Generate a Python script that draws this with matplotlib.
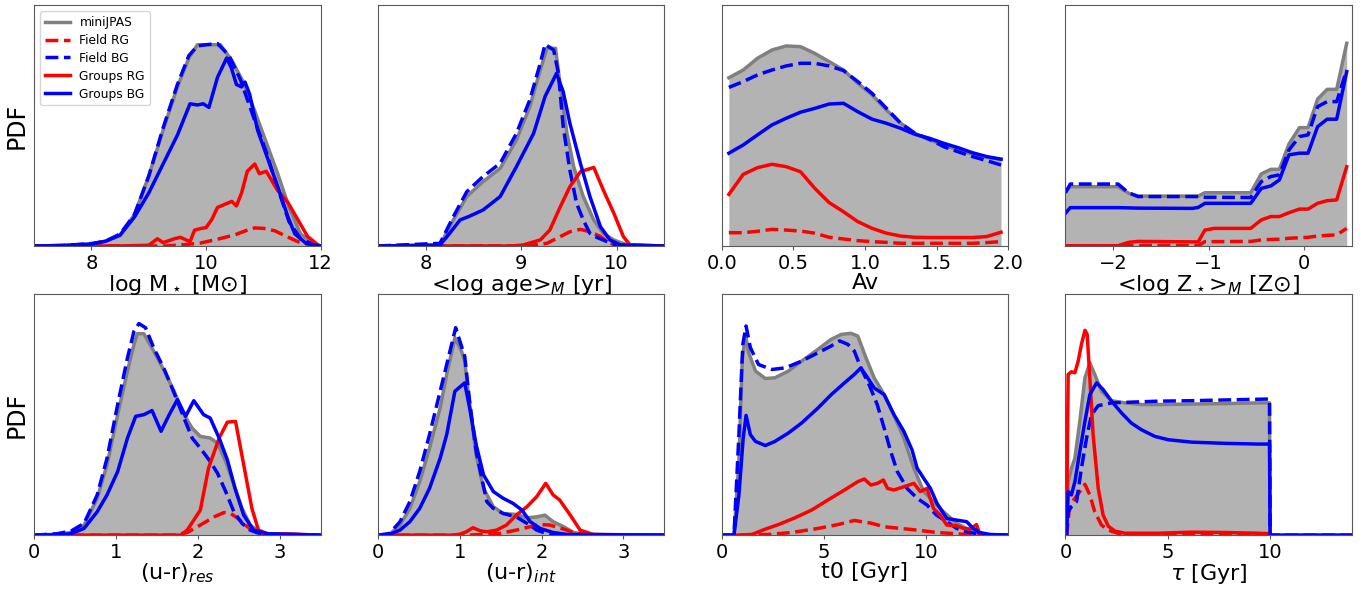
import matplotlib.pyplot as plt

# ---- log M* ----
mass_all_x = [7.0, 7.5, 8.0, 8.25, 8.5, 8.75, 9.0, 9.25, 9.5, 9.7, 9.85, 10.0, 10.25, 10.45, 10.65, 10.85, 11.05, 11.25, 11.45, 11.65, 11.9, 12.0]
mass_all_y = [0, 0.002, 0.008, 0.02, 0.045, 0.13, 0.29, 0.48, 0.66, 0.78, 0.835, 0.835, 0.835, 0.77, 0.68, 0.56, 0.43, 0.30, 0.16, 0.05, 0.005, 0]
mass_fbg_x = [7.0, 7.5, 8.0, 8.25, 8.5, 8.75, 9.0, 9.25, 9.5, 9.7, 9.85, 10.0, 10.2, 10.4, 10.6, 10.85, 11.05, 11.25, 11.45, 11.65, 11.9, 12.0]
mass_fbg_y = [0, 0.002, 0.01, 0.02, 0.05, 0.13, 0.29, 0.49, 0.67, 0.79, 0.83, 0.835, 0.84, 0.79, 0.69, 0.52, 0.39, 0.24, 0.10, 0.03, 0.003, 0]
mass_gbg_x = [7.0, 7.5, 8.0, 8.25, 8.5, 8.75, 9.0, 9.25, 9.5, 9.72, 9.85, 9.95, 10.05, 10.2, 10.36, 10.44, 10.53, 10.62, 10.68, 10.76, 10.9, 11.08, 11.26, 11.43, 11.55, 11.75, 12.0]
mass_gbg_y = [0, 0.002, 0.008, 0.02, 0.045, 0.12, 0.22, 0.34, 0.46, 0.59, 0.585, 0.59, 0.575, 0.70, 0.78, 0.74, 0.67, 0.66, 0.68, 0.63, 0.48, 0.36, 0.24, 0.12, 0.05, 0.01, 0]
mass_grg_x = [7.0, 8.5, 9.0, 9.15, 9.25, 9.45, 9.55, 9.72, 9.8, 9.92, 10.0, 10.1, 10.2, 10.35, 10.45, 10.53, 10.62, 10.72, 10.85, 10.93, 11.05, 11.25, 11.43, 11.6, 11.77, 11.95, 12.0]
mass_grg_y = [0, 0, 0.003, 0.03, 0.014, 0.03, 0.036, 0.018, 0.066, 0.073, 0.076, 0.11, 0.16, 0.175, 0.185, 0.166, 0.22, 0.31, 0.34, 0.30, 0.31, 0.23, 0.18, 0.11, 0.04, 0.005, 0]
mass_frg_x = [7.0, 9.3, 9.6, 9.9, 10.2, 10.5, 10.7, 10.85, 11.0, 11.2, 11.4, 11.6, 11.85, 12.0]
mass_frg_y = [0, 0, 0.005, 0.012, 0.028, 0.046, 0.064, 0.075, 0.073, 0.063, 0.04, 0.018, 0.004, 0]

# ---- <log age>_M ----
age_all_x = [7.5, 8.15, 8.29, 8.43, 8.6, 8.78, 8.95, 9.09, 9.2, 9.27, 9.36, 9.41, 9.48, 9.55, 9.65, 9.76, 9.86, 9.97, 10.11, 10.5]
age_all_y = [0, 0.004, 0.108, 0.205, 0.267, 0.322, 0.44, 0.578, 0.73, 0.82, 0.82, 0.66, 0.467, 0.329, 0.205, 0.108, 0.052, 0.025, 0.004, 0]
age_fbg_x = [7.5, 8.15, 8.29, 8.43, 8.6, 8.78, 8.95, 9.09, 9.2, 9.25, 9.34, 9.39, 9.44, 9.51, 9.58, 9.65, 9.72, 9.79, 9.9, 10.0, 10.5]
age_fbg_y = [0, 0.011, 0.122, 0.225, 0.288, 0.343, 0.467, 0.606, 0.758, 0.837, 0.813, 0.716, 0.495, 0.315, 0.177, 0.108, 0.052, 0.036, 0.018, 0.004, 0]
age_gbg_x = [7.5, 8.15, 8.25, 8.36, 8.45, 8.6, 8.78, 8.95, 9.13, 9.25, 9.37, 9.44, 9.51, 9.62, 9.72, 9.83, 9.93, 10.04, 10.5]
age_gbg_y = [0, 0.004, 0.052, 0.108, 0.122, 0.149, 0.205, 0.329, 0.467, 0.62, 0.716, 0.64, 0.509, 0.343, 0.205, 0.08, 0.025, 0.004, 0]
age_grg_x = [7.5, 8.9, 9.02, 9.2, 9.3, 9.41, 9.51, 9.62, 9.76, 9.86, 9.97, 10.07, 10.14, 10.5]
age_grg_y = [0, 0, 0.004, 0.025, 0.066, 0.163, 0.246, 0.308, 0.326, 0.232, 0.136, 0.039, 0.004, 0]
age_frg_x = [7.5, 9.0, 9.13, 9.27, 9.41, 9.51, 9.62, 9.72, 9.83, 9.93, 10.04, 10.5]
age_frg_y = [0, 0, 0.004, 0.011, 0.039, 0.059, 0.069, 0.059, 0.039, 0.011, 0.001, 0]

# ---- Av ----
av_x = [0.05, 0.15, 0.25, 0.35, 0.45, 0.55, 0.65, 0.75, 0.85, 0.95, 1.05, 1.15, 1.25, 1.35, 1.45, 1.55, 1.65, 1.75, 1.85, 1.95]
av_all_y = [0.698, 0.730, 0.779, 0.813, 0.830, 0.827, 0.799, 0.765, 0.730, 0.675, 0.627, 0.564, 0.509, 0.467, 0.440, 0.419, 0.398, 0.382, 0.368, 0.360]
av_fbg_y = [0.658, 0.682, 0.710, 0.730, 0.747, 0.758, 0.758, 0.747, 0.728, 0.682, 0.633, 0.571, 0.509, 0.467, 0.443, 0.412, 0.391, 0.371, 0.354, 0.336]
av_gbg_y = [0.385, 0.419, 0.461, 0.502, 0.530, 0.555, 0.571, 0.589, 0.592, 0.557, 0.526, 0.509, 0.488, 0.463, 0.447, 0.426, 0.408, 0.387, 0.371, 0.360]
av_grg_y = [0.214, 0.297, 0.325, 0.339, 0.329, 0.308, 0.239, 0.180, 0.142, 0.101, 0.073, 0.053, 0.041, 0.036, 0.035, 0.035, 0.035, 0.035, 0.039, 0.057]
av_frg_y = [0.055, 0.055, 0.061, 0.069, 0.066, 0.062, 0.053, 0.036, 0.029, 0.022, 0.018, 0.015, 0.011, 0.011, 0.011, 0.011, 0.011, 0.011, 0.014, 0.018]

# ---- <log Z*>_M ----
met_x = [-2.5, -2.45, -1.95, -1.84, -1.74, -1.17, -1.11, -1.04, -0.94, -0.56, -0.45, -0.35, -0.26, -0.16, -0.05, 0.04, 0.14, 0.24, 0.34, 0.445]
met_all_y = [0.225, 0.246, 0.246, 0.219, 0.207, 0.207, 0.207, 0.221, 0.221, 0.221, 0.299, 0.318, 0.318, 0.423, 0.491, 0.491, 0.609, 0.650, 0.650, 0.841]
met_fbg_y = [0.221, 0.257, 0.257, 0.221, 0.205, 0.205, 0.205, 0.202, 0.202, 0.201, 0.267, 0.288, 0.295, 0.398, 0.454, 0.461, 0.578, 0.599, 0.599, 0.730]
met_gbg_y = [0.136, 0.159, 0.159, 0.158, 0.157, 0.156, 0.160, 0.177, 0.177, 0.177, 0.239, 0.249, 0.274, 0.378, 0.385, 0.385, 0.495, 0.526, 0.526, 0.723]
met_grg_y = [0.001, 0.001, 0.001, 0.015, 0.019, 0.017, 0.017, 0.066, 0.073, 0.073, 0.108, 0.122, 0.122, 0.138, 0.153, 0.153, 0.177, 0.188, 0.191, 0.329]
met_frg_y = [0.001, 0.001, 0.001, 0.001, 0.001, 0.001, 0.001, 0.018, 0.018, 0.019, 0.025, 0.027, 0.028, 0.032, 0.034, 0.036, 0.041, 0.044, 0.046, 0.073]

# ---- (u-r)_res ----
res_all_x = [0.0, 0.28, 0.45, 0.61, 0.77, 0.89, 1.02, 1.14, 1.22, 1.26, 1.34, 1.46, 1.59, 1.71, 1.83, 1.93, 2.03, 2.15, 2.24, 2.34, 2.44, 2.54, 2.64, 2.76, 2.93, 3.5]
res_all_y = [0, 0.004, 0.011, 0.042, 0.153, 0.292, 0.5, 0.681, 0.792, 0.836, 0.836, 0.764, 0.681, 0.597, 0.5, 0.444, 0.41, 0.403, 0.382, 0.306, 0.208, 0.111, 0.042, 0.011, 0.003, 0]
res_fbg_x = [0.0, 0.28, 0.45, 0.61, 0.77, 0.89, 1.02, 1.14, 1.22, 1.28, 1.36, 1.46, 1.59, 1.71, 1.83, 1.93, 2.03, 2.15, 2.24, 2.34, 2.44, 2.54, 2.64, 2.76, 3.5]
res_fbg_y = [0, 0.006, 0.017, 0.049, 0.167, 0.319, 0.542, 0.736, 0.847, 0.878, 0.861, 0.778, 0.688, 0.59, 0.486, 0.403, 0.361, 0.306, 0.257, 0.181, 0.097, 0.049, 0.021, 0.006, 0]
res_gbg_x = [0.0, 0.28, 0.45, 0.61, 0.77, 0.89, 1.02, 1.14, 1.24, 1.34, 1.44, 1.55, 1.65, 1.75, 1.85, 1.95, 2.07, 2.15, 2.26, 2.36, 2.46, 2.56, 2.68, 2.85, 3.5]
res_gbg_y = [0, 0.001, 0.006, 0.028, 0.097, 0.167, 0.264, 0.403, 0.493, 0.5, 0.517, 0.431, 0.5, 0.5625, 0.493, 0.558, 0.5, 0.486, 0.403, 0.3125, 0.1875, 0.083, 0.021, 0.006, 0]
res_grg_x = [0.0, 1.79, 1.87, 2.03, 2.13, 2.26, 2.36, 2.46, 2.56, 2.66, 2.74, 2.85, 3.2, 3.5]
res_grg_y = [0, 0, 0.021, 0.104, 0.278, 0.403, 0.469, 0.472, 0.292, 0.111, 0.021, 0.006, 0.004, 0]
res_frg_x = [0.0, 1.71, 1.87, 2.03, 2.2, 2.32, 2.4, 2.48, 2.58, 2.68, 2.8, 3.5]
res_frg_y = [0, 0, 0.011, 0.042, 0.076, 0.094, 0.090, 0.072, 0.042, 0.017, 0.004, 0]

# ---- (u-r)_int ----
int_all_x = [0.0, 0.14, 0.27, 0.39, 0.51, 0.63, 0.76, 0.84, 0.94, 1.02, 1.06, 1.12, 1.2, 1.29, 1.41, 1.53, 1.69, 1.82, 1.94, 2.04, 2.14, 2.27, 2.39, 2.55, 3.5]
int_all_y = [0, 0.003, 0.042, 0.111, 0.222, 0.361, 0.528, 0.667, 0.819, 0.764, 0.722, 0.542, 0.333, 0.194, 0.118, 0.09, 0.086, 0.072, 0.076, 0.083, 0.056, 0.035, 0.011, 0.003, 0]
int_fbg_x = [0.0, 0.14, 0.27, 0.39, 0.51, 0.63, 0.76, 0.84, 0.95, 1.0, 1.06, 1.12, 1.2, 1.33, 1.41, 1.53, 1.69, 1.82, 1.94, 2.06, 2.22, 3.5]
int_fbg_y = [0, 0.007, 0.056, 0.139, 0.264, 0.417, 0.597, 0.708, 0.861, 0.806, 0.743, 0.556, 0.347, 0.139, 0.111, 0.09, 0.076, 0.049, 0.021, 0.007, 0, 0]
int_gbg_x = [0.0, 0.14, 0.27, 0.39, 0.51, 0.63, 0.76, 0.84, 0.94, 1.06, 1.12, 1.2, 1.29, 1.41, 1.53, 1.65, 1.76, 1.86, 1.98, 2.14, 2.31, 3.5]
int_gbg_y = [0, 0.003, 0.021, 0.056, 0.111, 0.194, 0.319, 0.417, 0.597, 0.632, 0.528, 0.375, 0.25, 0.181, 0.153, 0.132, 0.104, 0.056, 0.028, 0.011, 0.003, 0]
int_grg_x = [0.0, 0.92, 1.0, 1.08, 1.16, 1.25, 1.33, 1.45, 1.57, 1.69, 1.82, 1.94, 2.05, 2.14, 2.22, 2.35, 2.47, 2.63, 3.5]
int_grg_y = [0, 0, 0.004, 0.014, 0.031, 0.018, 0.014, 0.021, 0.042, 0.083, 0.118, 0.16, 0.215, 0.167, 0.146, 0.083, 0.021, 0.003, 0]
int_frg_x = [0.0, 1.08, 1.29, 1.49, 1.69, 1.86, 1.98, 2.1, 2.27, 2.39, 2.55, 3.5]
int_frg_y = [0, 0, 0.003, 0.007, 0.021, 0.035, 0.044, 0.042, 0.025, 0.011, 0.001, 0]

# ---- t0 ----
t0_all_x = [0.0, 0.6, 0.84, 1.0, 1.16, 1.32, 1.65, 2.13, 2.6, 3.26, 3.9, 4.7, 5.35, 5.84, 6.32, 6.65, 7.05, 7.45, 7.94, 8.4, 8.9, 9.39, 9.87, 10.35, 10.84, 11.48, 11.97, 12.45, 12.8, 14.0]
t0_all_y = [0, 0, 0.306, 0.722, 0.833, 0.757, 0.681, 0.65, 0.653, 0.681, 0.722, 0.771, 0.8125, 0.833, 0.8375, 0.826, 0.736, 0.653, 0.583, 0.5, 0.403, 0.278, 0.181, 0.139, 0.097, 0.049, 0.028, 0.014, 0.003, 0]
t0_fbg_x = [0.0, 0.6, 0.84, 1.03, 1.19, 1.4, 1.8, 2.45, 3.1, 3.9, 4.71, 5.35, 5.76, 6.16, 6.48, 6.8, 7.2, 7.6, 7.94, 8.26, 8.58, 9.06, 9.55, 10.03, 10.5, 11.0, 11.48, 11.97, 12.45, 12.8, 14.0]
t0_fbg_y = [0, 0, 0.417, 0.792, 0.868, 0.778, 0.708, 0.6875, 0.694, 0.722, 0.757, 0.785, 0.806, 0.792, 0.764, 0.694, 0.625, 0.542, 0.444, 0.347, 0.264, 0.194, 0.153, 0.125, 0.083, 0.056, 0.028, 0.014, 0.006, 0, 0]
t0_gbg_x = [0.0, 0.6, 0.84, 1.05, 1.19, 1.4, 1.65, 2.13, 2.6, 3.26, 3.9, 4.71, 5.35, 6.0, 6.48, 6.8, 7.13, 7.45, 7.94, 8.42, 8.9, 9.3, 9.55, 9.87, 10.2, 10.52, 11.0, 11.48, 11.97, 12.29, 12.61, 13.1, 14.0]
t0_gbg_y = [0, 0, 0.167, 0.403, 0.497, 0.417, 0.389, 0.372, 0.389, 0.424, 0.465, 0.528, 0.583, 0.632, 0.667, 0.694, 0.653, 0.611, 0.583, 0.5, 0.431, 0.354, 0.278, 0.236, 0.194, 0.132, 0.069, 0.0625, 0.056, 0.028, 0.011, 0.003, 0]
t0_grg_x = [0.0, 0.68, 1.48, 2.13, 2.77, 3.58, 4.39, 5.19, 6.0, 6.65, 6.97, 7.29, 7.61, 7.9, 8.1, 8.42, 8.9, 9.39, 9.7, 10.03, 10.35, 10.68, 11.0, 11.48, 11.81, 12.13, 12.45, 12.61, 12.94, 14.0]
t0_grg_y = [0, 0, 0.003, 0.025, 0.044, 0.072, 0.104, 0.146, 0.1875, 0.222, 0.233, 0.208, 0.215, 0.229, 0.194, 0.1875, 0.201, 0.215, 0.181, 0.194, 0.111, 0.083, 0.042, 0.039, 0.028, 0.025, 0.044, 0.003, 0, 0]
t0_frg_x = [0.0, 1.16, 2.29, 3.42, 4.71, 5.68, 6.48, 7.29, 7.94, 8.74, 9.55, 10.52, 11.48, 12.13, 14.0]
t0_frg_y = [0, 0, 0.003, 0.011, 0.028, 0.044, 0.061, 0.05, 0.035, 0.028, 0.021, 0.011, 0.006, 0.001, 0]

# ---- tau ----
tau_all_x = [0.0, 0.05, 0.13, 0.29, 0.46, 0.7, 0.95, 1.19, 1.43, 1.76, 2.25, 2.9, 3.71, 4.53, 6.16, 7.78, 9.41, 9.97, 10.0, 14.0]
tau_all_y = [0, 0, 0.222, 0.278, 0.319, 0.472, 0.653, 0.715, 0.667, 0.597, 0.558, 0.549, 0.542, 0.542, 0.544, 0.546, 0.549, 0.549, 0, 0]
tau_fbg_x = [0.0, 0.05, 0.13, 0.29, 0.54, 0.78, 1.03, 1.27, 1.6, 2.25, 2.9, 4.53, 6.16, 7.78, 9.41, 9.97, 10.0, 14.0]
tau_fbg_y = [0, 0, 0.097, 0.118, 0.139, 0.278, 0.403, 0.5, 0.5375, 0.549, 0.551, 0.556, 0.558, 0.561, 0.564, 0.565, 0, 0]
tau_gbg_x = [0.0, 0.05, 0.13, 0.29, 0.46, 0.7, 0.95, 1.19, 1.52, 1.84, 2.25, 2.74, 3.22, 3.71, 4.36, 5.02, 6.16, 7.78, 9.41, 9.97, 10.0, 14.0]
tau_gbg_y = [0, 0, 0.181, 0.167, 0.222, 0.347, 0.472, 0.583, 0.632, 0.604, 0.556, 0.507, 0.465, 0.4375, 0.41, 0.396, 0.386, 0.381, 0.378, 0.378, 0, 0]
tau_grg_x = [0.0, 0.05, 0.13, 0.29, 0.46, 0.62, 0.78, 0.95, 1.06, 1.19, 1.35, 1.6, 1.84, 2.09, 2.41, 2.9, 4.53, 6.16, 7.78, 9.41, 10.0]
tau_grg_y = [0, 0, 0.667, 0.678, 0.674, 0.722, 0.792, 0.85, 0.833, 0.653, 0.417, 0.194, 0.083, 0.0375, 0.017, 0.008, 0.008, 0.0125, 0.011, 0.008, 0.006]
tau_frg_x = [0.0, 0.05, 0.21, 0.46, 0.7, 0.95, 1.19, 1.43, 1.76, 2.09, 2.57, 3.22, 9.97, 10.0]
tau_frg_y = [0, 0, 0.125, 0.153, 0.181, 0.211, 0.167, 0.097, 0.042, 0.021, 0.008, 0.006, 0.004, 0]

panels = [
    # (curves: all, field RG, field BG, groups RG, groups BG), xlim, xticks, xlabel
    ([(mass_all_x, mass_all_y), (mass_frg_x, mass_frg_y), (mass_fbg_x, mass_fbg_y), (mass_grg_x, mass_grg_y), (mass_gbg_x, mass_gbg_y)],
     (7, 12), [8, 10, 12], r'log M$_\star$ [M⊙]'),
    ([(age_all_x, age_all_y), (age_frg_x, age_frg_y), (age_fbg_x, age_fbg_y), (age_grg_x, age_grg_y), (age_gbg_x, age_gbg_y)],
     (7.5, 10.5), [8, 9, 10], r'<log age>$_M$ [yr]'),
    ([(av_x, av_all_y), (av_x, av_frg_y), (av_x, av_fbg_y), (av_x, av_grg_y), (av_x, av_gbg_y)],
     (0, 2), [0.0, 0.5, 1.0, 1.5, 2.0], 'Av'),
    ([(met_x, met_all_y), (met_x, met_frg_y), (met_x, met_fbg_y), (met_x, met_grg_y), (met_x, met_gbg_y)],
     (-2.5, 0.5), [-2, -1, 0], r'<log Z$_\star$>$_M$ [Z⊙]'),
    ([(res_all_x, res_all_y), (res_frg_x, res_frg_y), (res_fbg_x, res_fbg_y), (res_grg_x, res_grg_y), (res_gbg_x, res_gbg_y)],
     (0, 3.5), [0, 1, 2, 3], r'(u-r)$_{res}$'),
    ([(int_all_x, int_all_y), (int_frg_x, int_frg_y), (int_fbg_x, int_fbg_y), (int_grg_x, int_grg_y), (int_gbg_x, int_gbg_y)],
     (0, 3.5), [0, 1, 2, 3], r'(u-r)$_{int}$'),
    ([(t0_all_x, t0_all_y), (t0_frg_x, t0_frg_y), (t0_fbg_x, t0_fbg_y), (t0_grg_x, t0_grg_y), (t0_gbg_x, t0_gbg_y)],
     (0, 14), [0, 5, 10], 't0 [Gyr]'),
    ([(tau_all_x, tau_all_y), (tau_frg_x, tau_frg_y), (tau_fbg_x, tau_fbg_y), (tau_grg_x, tau_grg_y), (tau_gbg_x, tau_gbg_y)],
     (0, 14), [0, 5, 10], r'$\tau$ [Gyr]'),
]

labels = ['miniJPAS', 'Field RG', 'Field BG', 'Groups RG', 'Groups BG']
styles = [('gray', '-'), ('r', '--'), ('b', '--'), ('r', '-'), ('b', '-')]

fig, axes = plt.subplots(2, 4, figsize=(13.67, 5.92), dpi=100)
plt.subplots_adjust(left=0.025, right=0.989, bottom=0.096, top=0.9916, wspace=0.2, hspace=0.2)

for i, (ax, (curves, xlim, xticks, xlabel)) in enumerate(zip(axes.flat, panels)):
    gx, gy = curves[0]
    ax.fill_between(gx, gy, 0, color='#b3b3b3', lw=0)
    for (x, y), (c, ls), lab in zip(curves, styles, labels):
        ax.plot(x, y, color=c, ls=ls, lw=2.5, label=lab)
    ax.set_xlim(xlim)
    ax.set_ylim(0, 1)
    ax.set_xticks(xticks)
    ax.set_yticks([])
    ax.tick_params(labelsize=14, color='0.35', length=3, pad=2.5)
    ax.set_xlabel(xlabel, fontsize=16, labelpad=0)
    for s in ax.spines.values():
        s.set_color('0.35')
    if i < 4:
        ax.set_zorder(2)
    if i % 4 == 0:
        ax.set_ylabel('PDF', fontsize=17)
    if i == 0:
        ax.legend(loc='upper left', fontsize=8.8, labelspacing=0.4)

plt.savefig('out.png')
